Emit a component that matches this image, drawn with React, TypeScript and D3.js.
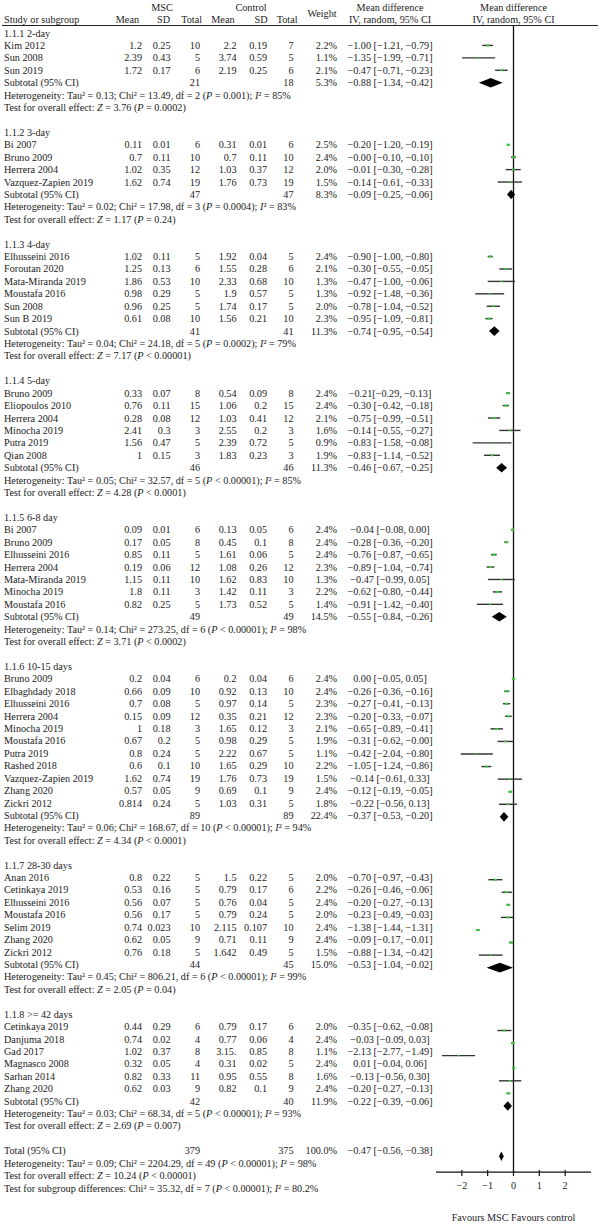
import { useEffect, useRef } from 'react';
import * as d3 from 'd3';

// study row: name, MSC mean, sd, total, control mean, sd, total, weight, CI text, plotted md, lo, hi
type Study = [string, string, string, string, string, string, string, string, string, number, number, number];
// subtotal: MSC total, control total, weight, CI text, md, lo, hi
type Sub = [string, string, string, string, number, number, number];

const groupLabels = [
  '1.1.1 2-day',
  '1.1.2 3-day',
  '1.1.3 4-day',
  '1.1.4 5-day',
  '1.1.5 6-8 day',
  '1.1.6 10-15 days',
  '1.1.7 28-30 days',
  '1.1.8 >= 42 days',
];

const day2: Study[] = [
  ['Kim 2012', '1.2', '0.25', '10', '2.2', '0.19', '7', '2.2%', '−1.00 [−1.21, −0.79]', -1.0, -1.21, -0.79],
  ['Sun 2008', '2.39', '0.43', '5', '3.74', '0.59', '5', '1.1%', '−1.35 [−1.99, −0.71]', -1.35, -1.99, -0.71],
  ['Sun 2019', '1.72', '0.17', '6', '2.19', '0.25', '6', '2.1%', '−0.47 [−0.71, −0.23]', -0.47, -0.71, -0.23],
];
const day3: Study[] = [
  ['Bi 2007', '0.11', '0.01', '6', '0.31', '0.01', '6', '2.5%', '−0.20 [−1.20, −0.19]', -0.2, -0.21, -0.19],
  ['Bruno 2009', '0.7', '0.11', '10', '0.7', '0.11', '10', '2.4%', '−0.00 [−0.10, −0.10]', 0, -0.1, 0.1],
  ['Herrera 2004', '1.02', '0.35', '12', '1.03', '0.37', '12', '2.0%', '−0.01 [−0.30, −0.28]', -0.01, -0.3, 0.28],
  ['Vazquez-Zapien 2019', '1.62', '0.74', '19', '1.76', '0.73', '19', '1.5%', '−0.14 [−0.61, −0.33]', -0.14, -0.61, 0.33],
];
const day4: Study[] = [
  ['Elhusseini 2016', '1.02', '0.11', '5', '1.92', '0.04', '5', '2.4%', '−0.90 [−1.00, −0.80]', -0.9, -1.0, -0.8],
  ['Foroutan 2020', '1.25', '0.13', '6', '1.55', '0.28', '6', '2.1%', '−0.30 [−0.55, −0.05]', -0.3, -0.55, -0.05],
  ['Mata-Miranda 2019', '1.86', '0.53', '10', '2.33', '0.68', '10', '1.3%', '−0.47 [−1.00, −0.06]', -0.47, -1.0, 0.06],
  ['Moustafa 2016', '0.98', '0.29', '5', '1.9', '0.57', '5', '1.3%', '−0.92 [−1.48, −0.36]', -0.92, -1.48, -0.36],
  ['Sun 2008', '0.96', '0.25', '5', '1.74', '0.17', '5', '2.0%', '−0.78 [−1.04, −0.52]', -0.78, -1.04, -0.52],
  ['Sun B 2019', '0.61', '0.08', '10', '1.56', '0.21', '10', '2.3%', '−0.95 [−1.09, −0.81]', -0.95, -1.09, -0.81],
];
const day5: Study[] = [
  ['Bruno 2009', '0.33', '0.07', '8', '0.54', '0.09', '8', '2.4%', '−0.21[−0.29, −0.13]', -0.21, -0.29, -0.13],
  ['Eliopoulos 2010', '0.76', '0.11', '15', '1.06', '0.2', '15', '2.4%', '−0.30 [−0.42, −0.18]', -0.3, -0.42, -0.18],
  ['Herrera 2004', '0.28', '0.08', '12', '1.03', '0.41', '12', '2.1%', '−0.75 [−0.99, −0.51]', -0.75, -0.99, -0.51],
  ['Minocha 2019', '2.41', '0.3', '3', '2.55', '0.2', '3', '1.6%', '−0.14 [−0.55, −0.27]', -0.14, -0.55, 0.27],
  ['Putra 2019', '1.56', '0.47', '5', '2.39', '0.72', '5', '0.9%', '−0.83 [−1.58, −0.08]', -0.83, -1.58, -0.08],
  ['Qian 2008', '1', '0.15', '3', '1.83', '0.23', '3', '1.9%', '−0.83 [−1.14, −0.52]', -0.83, -1.14, -0.52],
];
const day68: Study[] = [
  ['Bi 2007', '0.09', '0.01', '6', '0.13', '0.05', '6', '2.4%', '−0.04 [−0.08, 0.00]', -0.04, -0.08, 0.0],
  ['Bruno 2009', '0.17', '0.05', '8', '0.45', '0.1', '8', '2.4%', '−0.28 [−0.36, −0.20]', -0.28, -0.36, -0.2],
  ['Elhusseini 2016', '0.85', '0.11', '5', '1.61', '0.06', '5', '2.4%', '−0.76 [−0.87, −0.65]', -0.76, -0.87, -0.65],
  ['Herrera 2004', '0.19', '0.06', '12', '1.08', '0.26', '12', '2.3%', '−0.89 [−1.04, −0.74]', -0.89, -1.04, -0.74],
  ['Mata-Miranda 2019', '1.15', '0.11', '10', '1.62', '0.83', '10', '1.3%', '−0.47 [−0.99, 0.05]', -0.47, -0.99, 0.05],
  ['Minocha 2019', '1.8', '0.11', '3', '1.42', '0.11', '3', '2.2%', '−0.62 [−0.80, −0.44]', -0.62, -0.8, -0.44],
  ['Moustafa 2016', '0.82', '0.25', '5', '1.73', '0.52', '5', '1.4%', '−0.91 [−1.42, −0.40]', -0.91, -1.42, -0.4],
];
const day1015: Study[] = [
  ['Bruno 2009', '0.2', '0.04', '6', '0.2', '0.04', '6', '2.4%', '0.00 [−0.05, 0.05]', 0, -0.05, 0.05],
  ['Elbaghdady 2018', '0.66', '0.09', '10', '0.92', '0.13', '10', '2.4%', '−0.26 [−0.36, −0.16]', -0.26, -0.36, -0.16],
  ['Elhusseini 2016', '0.7', '0.08', '5', '0.97', '0.14', '5', '2.3%', '−0.27 [−0.41, −0.13]', -0.27, -0.41, -0.13],
  ['Herrera 2004', '0.15', '0.09', '12', '0.35', '0.21', '12', '2.3%', '−0.20 [−0.33, −0.07]', -0.2, -0.33, -0.07],
  ['Minocha 2019', '1', '0.18', '3', '1.65', '0.12', '3', '2.1%', '−0.65 [−0.89, −0.41]', -0.65, -0.89, -0.41],
  ['Moustafa 2016', '0.67', '0.2', '5', '0.98', '0.29', '5', '1.9%', '−0.31 [−0.62, −0.00]', -0.31, -0.62, 0.0],
  ['Putra 2019', '0.8', '0.24', '5', '2.22', '0.67', '5', '1.1%', '−0.42 [−2.04, −0.80]', -1.42, -2.04, -0.8],
  ['Rashed 2018', '0.6', '0.1', '10', '1.65', '0.29', '10', '2.2%', '−1.05 [−1.24, −0.86]', -1.05, -1.24, -0.86],
  ['Vazquez-Zapien 2019', '1.62', '0.74', '19', '1.76', '0.73', '19', '1.5%', '−0.14 [−0.61, 0.33]', -0.14, -0.61, 0.33],
  ['Zhang 2020', '0.57', '0.05', '9', '0.69', '0.1', '9', '2.4%', '−0.12 [−0.19, −0.05]', -0.12, -0.19, -0.05],
  ['Zickri 2012', '0.814', '0.24', '5', '1.03', '0.31', '5', '1.8%', '−0.22 [−0.56, 0.13]', -0.22, -0.56, 0.13],
];
const day2830: Study[] = [
  ['Anan 2016', '0.8', '0.22', '5', '1.5', '0.22', '5', '2.0%', '−0.70 [−0.97, −0.43]', -0.7, -0.97, -0.43],
  ['Cetinkaya 2019', '0.53', '0.16', '5', '0.79', '0.17', '6', '2.2%', '−0.26 [−0.46, −0.06]', -0.26, -0.46, -0.06],
  ['Elhusseini 2016', '0.56', '0.07', '5', '0.76', '0.04', '5', '2.4%', '−0.20 [−0.27, −0.13]', -0.2, -0.27, -0.13],
  ['Moustafa 2016', '0.56', '0.17', '5', '0.79', '0.24', '5', '2.0%', '−0.23 [−0.49, −0.03]', -0.23, -0.49, 0.03],
  ['Selim 2019', '0.74', '0.023', '10', '2.115', '0.107', '10', '2.4%', '−1.38 [−1.44, −1.31]', -1.38, -1.44, -1.31],
  ['Zhang 2020', '0.62', '0.05', '9', '0.71', '0.11', '9', '2.4%', '−0.09 [−0.17, −0.01]', -0.09, -0.17, -0.01],
  ['Zickri 2012', '0.76', '0.18', '5', '1.642', '0.49', '5', '1.5%', '−0.88 [−1.34, −0.42]', -0.88, -1.34, -0.42],
];
const day42: Study[] = [
  ['Cetinkaya 2019', '0.44', '0.29', '6', '0.79', '0.17', '6', '2.0%', '−0.35 [−0.62, −0.08]', -0.35, -0.62, -0.08],
  ['Danjuma 2018', '0.74', '0.02', '4', '0.77', '0.06', '4', '2.4%', '−0.03 [−0.09, 0.03]', -0.03, -0.09, 0.03],
  ['Gad 2017', '1.02', '0.37', '8', '3.15.', '0.85', '8', '1.1%', '−2.13 [−2.77, −1.49]', -2.13, -2.77, -1.49],
  ['Magnasco 2008', '0.32', '0.05', '4', '0.31', '0.02', '5', '2.4%', '0.01 [−0.04, 0.06]', 0.01, -0.04, 0.06],
  ['Sarhan 2014', '0.82', '0.33', '11', '0.95', '0.55', '8', '1.6%', '−0.13 [−0.56, 0.30]', -0.13, -0.56, 0.3],
  ['Zhang 2020', '0.62', '0.03', '9', '0.82', '0.1', '9', '2.4%', '−0.20 [−0.27, −0.13]', -0.2, -0.27, -0.13],
];

const subtotals: Sub[] = [
  ['21', '18', '5.3%', '−0.88 [−1.34, −0.42]', -0.88, -1.34, -0.42],
  ['47', '47', '8.3%', '−0.09 [−0.25, −0.06]', -0.09, -0.25, 0.06],
  ['41', '41', '11.3%', '−0.74 [−0.95, −0.54]', -0.74, -0.95, -0.54],
  ['46', '46', '11.3%', '−0.46 [−0.67, −0.25]', -0.46, -0.67, -0.25],
  ['49', '49', '14.5%', '−0.55 [−0.84, −0.26]', -0.55, -0.84, -0.26],
  ['89', '89', '22.4%', '−0.37 [−0.53, −0.20]', -0.37, -0.53, -0.2],
  ['44', '45', '15.0%', '−0.53 [−1.04, −0.02]', -0.53, -1.04, -0.02],
  ['42', '40', '11.9%', '−0.22 [−0.39, −0.06]', -0.22, -0.39, -0.06],
];

// _x_ marks italic text
const heterogeneity = [
  'Heterogeneity: Tau² = 0.13; Chi² = 13.49, df = 2 (_P_ = 0.001); _I_² = 85%',
  'Heterogeneity: Tau² = 0.02; Chi² = 17.98, df = 3 (_P_ = 0.0004); _I_² = 83%',
  'Heterogeneity: Tau² = 0.04; Chi² = 24.18, df = 5 (_P_ = 0.0002); _I_² = 79%',
  'Heterogeneity: Tau² = 0.05; Chi² = 32.57, df = 5 (_P_ < 0.00001); _I_² = 85%',
  'Heterogeneity: Tau² = 0.14; Chi² = 273.25, df = 6 (_P_ < 0.00001); _I_² = 98%',
  'Heterogeneity: Tau² = 0.06; Chi² = 168.67, df = 10 (_P_ < 0.00001); _I_² = 94%',
  'Heterogeneity: Tau² = 0.45; Chi² = 806.21, df = 6 (_P_ < 0.00001); _I_² = 99%',
  'Heterogeneity: Tau² = 0.03; Chi² = 68.34, df = 5 (_P_ < 0.00001); _I_² = 93%',
];
const overallTests = [
  'Test for overall effect: _Z_ = 3.76 (_P_ = 0.0002)',
  'Test for overall effect: _Z_ = 1.17 (_P_ = 0.24)',
  'Test for overall effect: _Z_ = 7.17 (_P_ < 0.00001)',
  'Test for overall effect: _Z_ = 4.28 (_P_ < 0.0001)',
  'Test for overall effect: _Z_ = 3.71 (_P_ < 0.0002)',
  'Test for overall effect: _Z_ = 4.34 (_P_ < 0.0001)',
  'Test for overall effect: _Z_ = 2.05 (_P_ = 0.04)',
  'Test for overall effect: _Z_ = 2.69 (_P_ = 0.007)',
];

const total: Sub = ['379', '375', '100.0%', '−0.47 [−0.56, −0.38]', -0.47, -0.56, -0.38];
const totalNotes = [
  'Heterogeneity: Tau² = 0.09; Chi² = 2204.29, df = 49 (_P_ < 0.00001); _I_² = 98%',
  'Test for overall effect: _Z_ = 10.24 (_P_ < 0.00001)',
  'Test for subgroup differences: Chi² = 35.32, df = 7 (_P_ < 0.00001); _I_² = 80.2%',
];

const groups = [day2, day3, day4, day5, day68, day1015, day2830, day42];
const xTicks = [-2, -1, 0, 1, 2];

const W = 600;
const H = 1224;
const FONT = '"Liberation Serif", "Times New Roman", serif';
const FS = 10.2;

const App = () => {
  const ref = useRef<SVGSVGElement>(null);

  useEffect(() => {
    document.body.style.margin = '0';
    const svg = d3.select(ref.current);
    svg.selectAll('*').remove();

    // columns: right edges of numeric columns
    const col = { name: 4, m1: 142, sd1: 170.5, n1: 200, m2: 236.5, sd2: 267, n2: 293.5, w: 337, ci: 390 };

    const x = d3.scaleLinear().domain([-3, 3]).range([436, 591]);
    const nRows = 94;
    const yText = d3.scaleLinear().domain([0, nRows - 1]).range([33, 33 + (nRows - 1) * 12.42]);
    // plot column drifts slightly lower than the table towards the bottom
    const yPlot = (i: number) => {
      const v = yText(i);
      return v + Math.max(0, v - 700) * 0.012;
    };

    const g = svg.append('g').attr('font-family', FONT).attr('font-size', FS).attr('fill', '#222');

    const text = (tx: number, ty: number, s: string, anchor = 'start') =>
      g.append('text').attr('x', tx).attr('y', ty + 3.5).attr('text-anchor', anchor).text(s);
    const richText = (tx: number, ty: number, s: string) => {
      const t = g.append('text').attr('x', tx).attr('y', ty + 3.5);
      s.split('_').forEach((part, k) => {
        if (!part) return;
        t.append('tspan').attr('font-style', k % 2 ? 'italic' : 'normal').text(part);
      });
    };

    // header
    text(162, 7, 'MSC', 'middle');
    text(251, 7, 'Control', 'middle');
    text(322, 13, 'Weight', 'middle');
    text(col.ci, 7, 'Mean difference', 'middle');
    text(col.ci, 19, 'IV, random, 95% CI', 'middle');
    text(x(0), 7, 'Mean difference', 'middle');
    text(x(0), 19, 'IV, random, 95% CI', 'middle');
    text(col.name, 19, 'Study or subgroup');
    text(139, 19, 'Mean', 'end');
    text(170, 19, 'SD', 'end');
    text(202, 19, 'Total', 'end');
    text(234.5, 19, 'Mean', 'end');
    text(267.5, 19, 'SD', 'end');
    text(297.5, 19, 'Total', 'end');
    g.append('line')
      .attr('x1', 2).attr('x2', 598).attr('y1', 25.5).attr('y2', 25.5)
      .attr('stroke', '#222').attr('stroke-width', 1.1);

    const plot = svg.append('g');
    const axisY = yText(nRows - 1) - 16;

    // zero line
    plot.append('line')
      .attr('x1', x(0)).attr('x2', x(0)).attr('y1', 25.5).attr('y2', axisY)
      .attr('stroke', '#111').attr('stroke-width', 1.3);

    const marker = d3.scaleLinear().domain([0.9, 2.5]).range([1.6, 3.4]);

    const diamond = (i: number, md: number, lo: number, hi: number) => {
      const cy = yPlot(i);
      const hh = 4.8;
      plot.append('path')
        .attr('d', d3.line()([[x(lo), cy], [x(md), cy - hh], [x(hi), cy], [x(md), cy + hh]]) + 'Z')
        .attr('fill', '#000');
    };

    let row = 0;
    groups.forEach((studies, gi) => {
      text(col.name, yText(row), groupLabels[gi]);
      row++;
      studies.forEach((s) => {
        const ty = yText(row);
        text(col.name, ty, s[0]);
        text(col.m1, ty, s[1], 'end');
        text(col.sd1, ty, s[2], 'end');
        text(col.n1, ty, s[3], 'end');
        text(col.m2, ty, s[4], 'end');
        text(col.sd2, ty, s[5], 'end');
        text(col.n2, ty, s[6], 'end');
        text(col.w, ty, s[7], 'end');
        text(col.ci, ty, s[8], 'middle');
        const py = yPlot(row);
        plot.append('line')
          .attr('x1', x(s[10])).attr('x2', x(s[11])).attr('y1', py).attr('y2', py)
          .attr('stroke', '#333').attr('stroke-width', 1.4);
        const sz = marker(parseFloat(s[7]));
        plot.append('rect')
          .attr('x', x(s[9]) - sz / 2).attr('y', py - sz / 3)
          .attr('width', sz).attr('height', (sz * 2) / 3)
          .attr('fill', '#3fc23f');
        row++;
      });
      const sub = subtotals[gi];
      const ty = yText(row);
      text(col.name, ty, 'Subtotal (95% CI)');
      text(col.n1, ty, sub[0], 'end');
      text(col.n2, ty, sub[1], 'end');
      text(col.w, ty, sub[2], 'end');
      text(col.ci, ty, sub[3], 'middle');
      diamond(row, sub[4], sub[5], sub[6]);
      row++;
      richText(col.name, yText(row), heterogeneity[gi]);
      row++;
      richText(col.name, yText(row), overallTests[gi]);
      row += 2;
    });

    const ty = yText(row);
    text(col.name, ty, 'Total (95% CI)');
    text(col.n1, ty, total[0], 'end');
    text(col.n2, ty, total[1], 'end');
    text(col.w, ty, total[2], 'end');
    text(col.ci, ty, total[3], 'middle');
    diamond(row, total[4], total[5], total[6]);
    row++;
    totalNotes.forEach((s) => {
      richText(col.name, yText(row), s);
      row++;
    });

    // axis
    const axis = plot.append('g').attr('transform', `translate(0,${axisY})`);
    axis.append('line')
      .attr('x1', x(-3)).attr('x2', x(3))
      .attr('stroke', '#111').attr('stroke-width', 1.3);
    axis.selectAll('line.tick')
      .data(xTicks)
      .join('line')
      .attr('class', 'tick')
      .attr('x1', (d) => x(d)).attr('x2', (d) => x(d))
      .attr('y1', -2).attr('y2', 4)
      .attr('stroke', '#111').attr('stroke-width', 1.2);
    axis.selectAll('text')
      .data(xTicks)
      .join('text')
      .attr('x', (d) => x(d)).attr('y', 17)
      .attr('text-anchor', 'middle')
      .attr('font-family', FONT).attr('font-size', FS).attr('fill', '#222')
      .text((d) => (d < 0 ? '−' + Math.abs(d) : String(d)));

    text(x(0), 1217, 'Favours MSC Favours control', 'middle');
  }, []);

  return <svg ref={ref} width={W} height={H} style={{ display: 'block', background: '#fff' }} />;
};

export default App;
